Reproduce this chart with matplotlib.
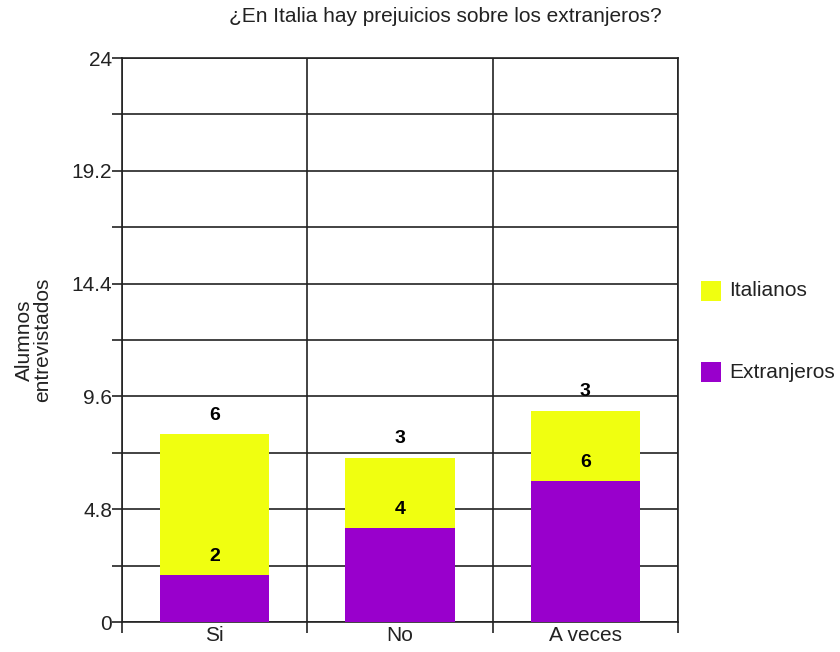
import matplotlib
matplotlib.use("Agg")
import matplotlib.pyplot as plt
import numpy as np
from matplotlib.patches import Rectangle

plt.rcParams['font.family'] = ['Liberation Sans', 'DejaVu Sans']

categories = ["Si", "No", "A veces"]
extranjeros = [2, 4, 6]
italianos = [6, 3, 3]
series_names = ["Italianos", "Extranjeros"]
y_ticks = [0, 4.8, 9.6, 14.4, 19.2, 24]
y_tick_labels = ["0", "4.8", "9.6", "14.4", "19.2", "24"]

yellow = "#f0ff10"
purple = "#9900cc"
ink = "#222222"
fs = 15

fig = plt.figure(figsize=(8.4, 6.52), dpi=100)
ax = fig.add_axes([122 / 840, 30 / 652, 556 / 840, 564 / 652])

x = np.arange(len(categories))
width = 0.59
ax.bar(x, extranjeros, width, color=purple, zorder=3)
ax.bar(x, italianos, width, bottom=extranjeros, color=yellow, zorder=3)

# value labels sit just above the top edge of each segment
off = 0.8
for xi, e, it in zip(x, extranjeros, italianos):
    ax.text(xi, e + off, str(e), ha="center", va="center", fontsize=14,
            fontweight="bold", zorder=4)
    ax.text(xi, e + it + off, str(it), ha="center", va="center", fontsize=14,
            fontweight="bold", zorder=4)

ax.set_xlim(-0.5, len(categories) - 0.5)
ax.set_ylim(0, 24)

# horizontal grid every 2.4, labelled every 4.8
minor = np.arange(0, 24.01, 2.4)
ax.set_yticks(minor, minor=True)
ax.set_yticks(y_ticks)
ax.set_yticklabels(y_tick_labels, fontsize=fs)
ax.tick_params(axis="y", which="both", length=7, width=1.2, color=ink,
               labelcolor=ink, pad=0)
for v in minor:
    ax.axhline(v, color=ink, lw=1.2, zorder=1)

# vertical separators between categories
ax.set_xticks(x)
ax.set_xticklabels(categories, fontsize=fs)
ax.tick_params(axis="x", which="major", length=0, pad=3, labelcolor=ink)
ax.set_xticks(np.arange(-0.5, len(categories)), minor=True)
ax.tick_params(axis="x", which="minor", length=8, width=1.2, color=ink)
for b in np.arange(-0.5, len(categories)):
    ax.axvline(b, color=ink, lw=1.2, zorder=1)

for s in ax.spines.values():
    s.set_color(ink)
    s.set_linewidth(1.2)

ax.set_ylabel("Alumnos\nentrevistados", fontsize=fs, color=ink,
              linespacing=1.0)
ax.yaxis.set_label_coords(-0.125, 0.5)

fig.text(445 / 840, 1 - 17 / 652, "¿En Italia hay prejuicios sobre los extranjeros?",
         ha="center", va="center", fontsize=fs, color=ink)

# legend drawn as squares with labels on the right
for name, col, yc in [(series_names[0], yellow, 291), (series_names[1], purple, 372)]:
    fig.patches.append(Rectangle((701 / 840, 1 - (yc + 10) / 652), 20 / 840, 20 / 652,
                                 transform=fig.transFigure, facecolor=col,
                                 edgecolor="none"))
    fig.text(729 / 840, 1 - yc / 652, name, ha="left", va="center",
             fontsize=fs, color=ink)

fig.savefig("out.png", dpi=100)
